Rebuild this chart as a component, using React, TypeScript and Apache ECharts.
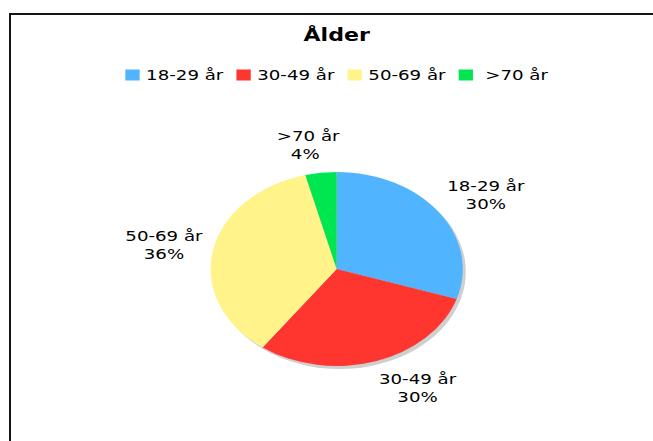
import React, { useEffect, useRef } from 'react';
import * as echarts from 'echarts';

// ---- data ----
const titleText = 'Ålder';
const categories = ['18-29 år', '30-49 år', '50-69 år', ' >70 år'];
const values = [30, 30, 36, 4];
const colors = ['#50B4FF', '#FF352F', '#FFF38A', '#00E650'];

// ---- layout (the reference image is stretched horizontally) ----
const W = 653;
const H = 441;
const SX = 1.3;
const CX = 259;
const CY = 269;
const R = 97;
const FONT = 'DejaVu Sans';

export default function App() {
  const ref = useRef<HTMLDivElement>(null);

  useEffect(() => {
    if (!ref.current) return;
    const chart = echarts.init(ref.current, null, { renderer: 'svg' });
    const total = values.reduce((a, b) => a + b, 0);
    const mids: number[] = [];
    let acc = 0;
    values.forEach((v) => {
      mids.push(((acc + v / 2) / total) * Math.PI * 2);
      acc += v;
    });

    chart.setOption({
      animation: false,
      textStyle: { fontFamily: FONT },
      title: {
        text: titleText,
        left: 'center',
        top: 22,
        textStyle: { fontFamily: FONT, fontSize: 17, fontWeight: 'bold', color: '#000' },
      },
      legend: {
        data: categories,
        top: 63,
        left: 'center',
        icon: 'rect',
        itemWidth: 11,
        itemHeight: 11,
        itemGap: 10,
        selectedMode: false,
        textStyle: { fontFamily: FONT, fontSize: 14, color: '#000' },
      },
      series: [
        {
          type: 'pie',
          name: 'shadow',
          silent: true,
          center: [CX + 3 / SX, CY + 3],
          radius: R,
          data: [{ value: total, name: 'shadow' }],
          itemStyle: { color: '#cfcfcf' },
          label: { show: false },
          labelLine: { show: false },
          emphasis: { disabled: true },
          z: 1,
        },
        {
          type: 'pie',
          name: titleText,
          center: [CX, CY],
          radius: R,
          startAngle: 90,
          clockwise: true,
          avoidLabelOverlap: false,
          data: categories.map((c, i) => ({
            name: c,
            value: values[i],
            itemStyle: { color: colors[i] },
          })),
          itemStyle: { borderWidth: 0 },
          label: {
            show: true,
            position: 'outside',
            fontFamily: FONT,
            fontSize: 14,
            lineHeight: 18,
            color: '#000',
            formatter: (p: any) => `${p.name}\n${Math.round(p.percent)}%`,
          },
          labelLine: { show: false, length: 10, length2: 0 },
          labelLayout: (params: any) => {
            const th = mids[params.dataIndex];
            const dx = Math.sin(th);
            const dy = -Math.cos(th);
            const w = params.labelRect.width;
            const sx = Math.max(-1, Math.min(1, dx / 0.3));
            return {
              x: CX + 105 * dx + (sx * w) / 2,
              y: CY + 125 * dy,
              align: 'center',
              verticalAlign: 'middle',
            };
          },
          emphasis: { disabled: true },
          z: 2,
        },
      ],
    });

    return () => chart.dispose();
  }, []);

  return (
    <div
      style={{
        position: 'fixed',
        left: 0,
        top: 0,
        width: W,
        height: H,
        overflow: 'hidden',
        background: '#fff',
      }}
    >
      <div
        style={{
          position: 'absolute',
          left: 9,
          top: 13,
          width: W,
          height: H,
          borderLeft: '2px solid #151515',
          borderTop: '2px solid #151515',
        }}
      />
      <div
        ref={ref}
        style={{
          position: 'absolute',
          left: 0,
          top: 0,
          width: 2 * CX,
          height: H,
          transform: `scaleX(${SX})`,
          transformOrigin: '0 0',
        }}
      />
    </div>
  );
}
